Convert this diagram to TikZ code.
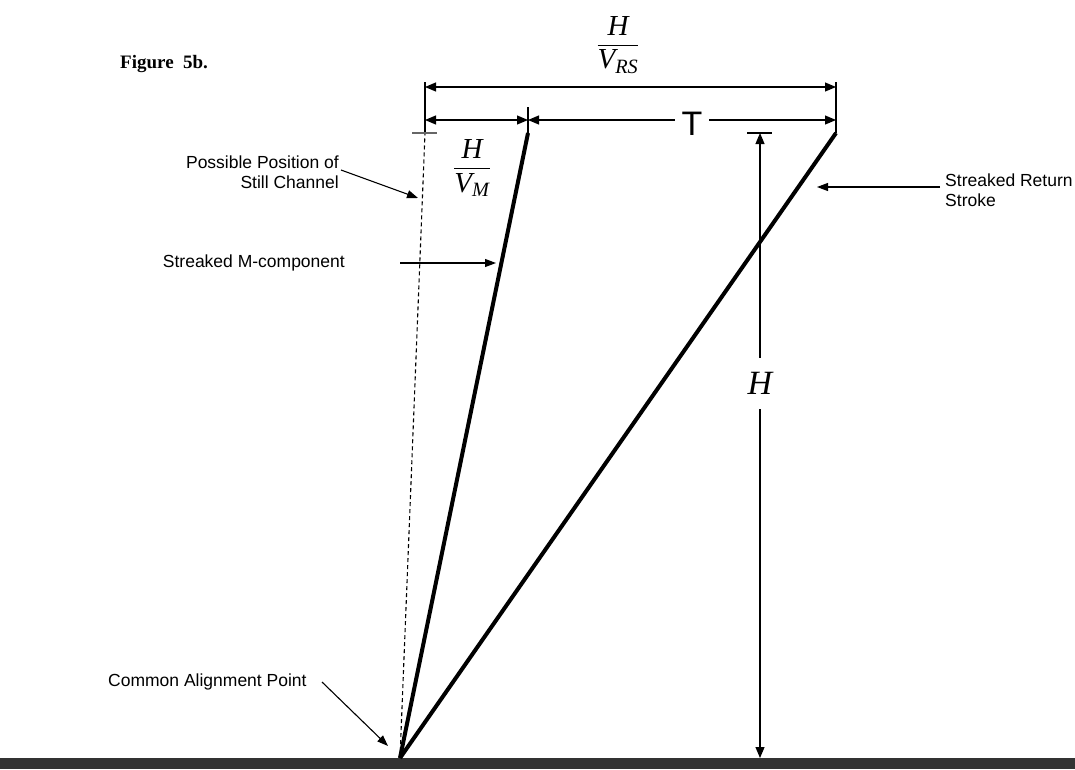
\documentclass[tikz,border=0pt]{standalone}
\usepackage{amsmath}
\usepackage{fontspec}
\setmainfont{Liberation Serif}
\setsansfont{Liberation Sans}
\usetikzlibrary{arrows.meta}
\newcommand{\labelfont}{\sffamily\fontsize{17.5}{20}\selectfont}
\newcommand{\fracfont}{\fontsize{29}{32}\selectfont}
\tikzset{
  thinline/.style={line width=1.1pt},
  streak/.style={line width=4pt},
  dimline/.style={thinline, {Triangle[length=11pt,width=9pt]}-{Triangle[length=11pt,width=9pt]}},
  pointer/.style={thinline, -{Triangle[length=11pt,width=8pt]}},
  tag/.style={font=\labelfont, inner sep=0pt}
}

\begin{document}
\begin{tikzpicture}[x=1pt,y=-1pt]
      \useasboundingbox (0,0) rectangle (1075,769);
      \fill[black!80] (0,758) rectangle (1075,769);
      \coordinate (base) at (400,758);
      \coordinate (mtop) at (528,133);
      \coordinate (rtop) at (836,133);
      \coordinate (still) at (425,133);
      \coordinate (htop) at (760,133);
      \coordinate (hbot) at (760,758);
      \node[anchor=base west, font=\bfseries\fontsize{19}{20}\selectfont, inner sep=0pt] (fig) at (120,68) {Figure~~5b.};
      % the two streaks and the still channel
      \draw[streak] (base) -- (mtop);
      \draw[streak] (base) -- (rtop);
      \draw[thinline, dash pattern=on 4pt off 3pt] (base) -- (still);
      % extension lines and ticks
      \draw[thinline] (425,82) -- (still) (836,82) -- (rtop) (528,107) -- (mtop);
      \draw[thinline, black!60] (412,133) -- (437,133);
      \draw[thinline] (747,133) -- (772,133);
      % dimensions
      \coordinate (rsl) at (425,87);
      \coordinate (rsr) at (836,87);
      \coordinate (ml) at (425,120);
      \coordinate (mr) at (528,120);
      \coordinate (tr) at (836,120);
      \draw[dimline] (rsl) -- (rsr);
      \draw[dimline] (ml) -- (mr);
      \draw[dimline] (mr) -- (tr);
      \node[fill=white, font=\sffamily\fontsize{34}{34}\selectfont, inner xsep=7pt, inner ysep=0pt] (tlab) at (692,124) {T};
      \node[font=\fracfont] (vrs) at (618,45) {$\dfrac{\textit{H}}{\textit{V}_{\textit{RS}}}$};
      \node[font=\fracfont] (vm) at (472,168) {$\dfrac{\textit{H}}{\textit{V}_{\textit{M}}}$};
      \draw[dimline] (htop) -- (hbot);
      \node[fill=white, font=\itshape\fontsize{34}{34}\selectfont, minimum height=51pt, inner xsep=4pt] (hlab) at (760,383) {H};
      % labels with pointers
      \node[tag, anchor=east, align=right] (stilllab) at (339,172) {Possible Position of\\Still Channel};
      \coordinate (stilltail) at (341,170);
      \coordinate (stillhead) at (418,198);
      \draw[pointer] (stilltail) -- (stillhead);
      \node[tag, anchor=east] (mlab) at (345,263) {Streaked M-component};
      \coordinate (mtail) at (400,263);
      \coordinate (mhead) at (496,263);
      \draw[pointer] (mtail) -- (mhead);
      \node[tag, anchor=west, align=left] (rlab) at (945,190) {Streaked Return\\Stroke};
      \coordinate (rtail) at (940,187);
      \coordinate (rhead) at (817,187);
      \draw[pointer] (rtail) -- (rhead);
      \node[tag, anchor=west] (clab) at (108,682) {Common Alignment Point};
      \coordinate (ctail) at (322,682);
      \coordinate (chead) at (388,746);
      \draw[pointer] (ctail) -- (chead);
\end{tikzpicture}
\end{document}
